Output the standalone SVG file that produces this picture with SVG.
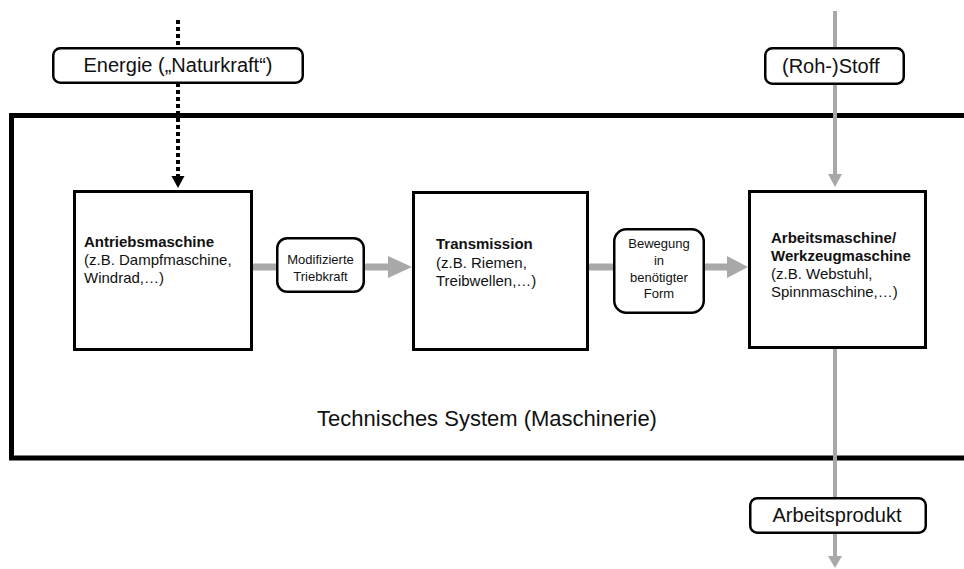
<svg xmlns="http://www.w3.org/2000/svg" width="964" height="569" viewBox="0 0 964 569">
<style>
text{font-family:"Liberation Sans",Arial,sans-serif;fill:#111}
.lbl{font-size:20px;text-anchor:middle}
.box{fill:#fff;stroke:#000;stroke-width:3}
.rbox{fill:#fff;stroke:#000;stroke-width:2.5}
.t{font-size:15px}
.b{font-weight:bold}
.s{font-size:13px;text-anchor:middle}
.gl{stroke:#a8a8a8;fill:none}
.ga{fill:#a8a8a8}
</style>
<rect width="964" height="569" fill="#fff"/>
<g id="system">
<path d="M970 115.5 H11.5 V458 H970" fill="none" stroke="#000" stroke-width="5"/>
<text x="487" y="426" style="font-size:22px;text-anchor:middle">Technisches System (Maschinerie)</text>
</g>
<g id="connectors">
<line x1="178" y1="20" x2="178" y2="177" stroke="#000" stroke-width="4" stroke-dasharray="4 3"/>
<polygon points="171.5,176 184.5,176 178,188" fill="#000"/>
<line class="gl" x1="835" y1="11" x2="835" y2="176" stroke-width="4"/>
<polygon class="ga" points="828,174 842,174 835,187"/>
<line class="gl" x1="835" y1="349" x2="835" y2="559" stroke-width="4"/>
<polygon class="ga" points="828,556 842,556 835,568"/>
<rect class="ga" x="253" y="263.5" width="23" height="7"/>
<rect class="ga" x="365" y="263.5" width="24" height="7"/>
<polygon class="ga" points="388,256 412,267 388,278"/>
<rect class="ga" x="589" y="263.5" width="25" height="7"/>
<rect class="ga" x="705" y="263.5" width="23" height="7"/>
<polygon class="ga" points="727,256 748,267 727,278"/>
</g>
<g id="energie">
<rect class="rbox" x="53.25" y="48.25" width="249.5" height="34.5" rx="7"/>
<text class="lbl" x="178" y="72">Energie („Naturkraft“)</text>
</g>
<g id="rohstoff">
<rect class="rbox" x="765.25" y="48.25" width="138.5" height="35.5" rx="7"/>
<text x="782" y="73" style="font-size:20px">(Roh-)Stoff</text>
</g>
<g id="arbeitsprodukt">
<rect class="rbox" x="750.25" y="498.25" width="175.5" height="34.5" rx="7"/>
<text class="lbl" x="837" y="522">Arbeitsprodukt</text>
</g>
<g id="antrieb">
<rect class="box" x="74.5" y="191.5" width="177" height="158"/>
<text class="t b" x="84" y="247">Antriebsmaschine</text>
<text class="t" x="84" y="265">(z.B. Dampfmaschine,</text>
<text class="t" x="84" y="283">Windrad,…)</text>
</g>
<g id="triebkraft">
<rect class="rbox" x="277.25" y="238.25" width="86.5" height="53.5" rx="10"/>
<text class="s" x="320.5" y="264">Modifizierte</text>
<text class="s" x="320.5" y="281">Triebkraft</text>
</g>
<g id="transmission">
<rect class="box" x="413.5" y="192.5" width="174" height="157"/>
<text class="t b" x="436" y="249">Transmission</text>
<text class="t" x="436" y="268">(z.B. Riemen,</text>
<text class="t" x="436" y="286">Treibwellen,…)</text>
</g>
<g id="bewegung">
<rect class="rbox" x="614.25" y="229.25" width="89.5" height="83.5" rx="12"/>
<text class="s" x="659" y="248">Bewegung</text>
<text class="s" x="659" y="265">in</text>
<text class="s" x="659" y="282">benötigter</text>
<text class="s" x="659" y="298">Form</text>
</g>
<g id="arbeitsmaschine">
<rect class="box" x="749.5" y="191.5" width="176" height="156"/>
<text class="t b" x="771" y="243">Arbeitsmaschine/</text>
<text class="t b" x="771" y="261">Werkzeugmaschine</text>
<text class="t" x="771" y="279">(z.B. Webstuhl,</text>
<text class="t" x="771" y="297">Spinnmaschine,…)</text>
</g>
</svg>
